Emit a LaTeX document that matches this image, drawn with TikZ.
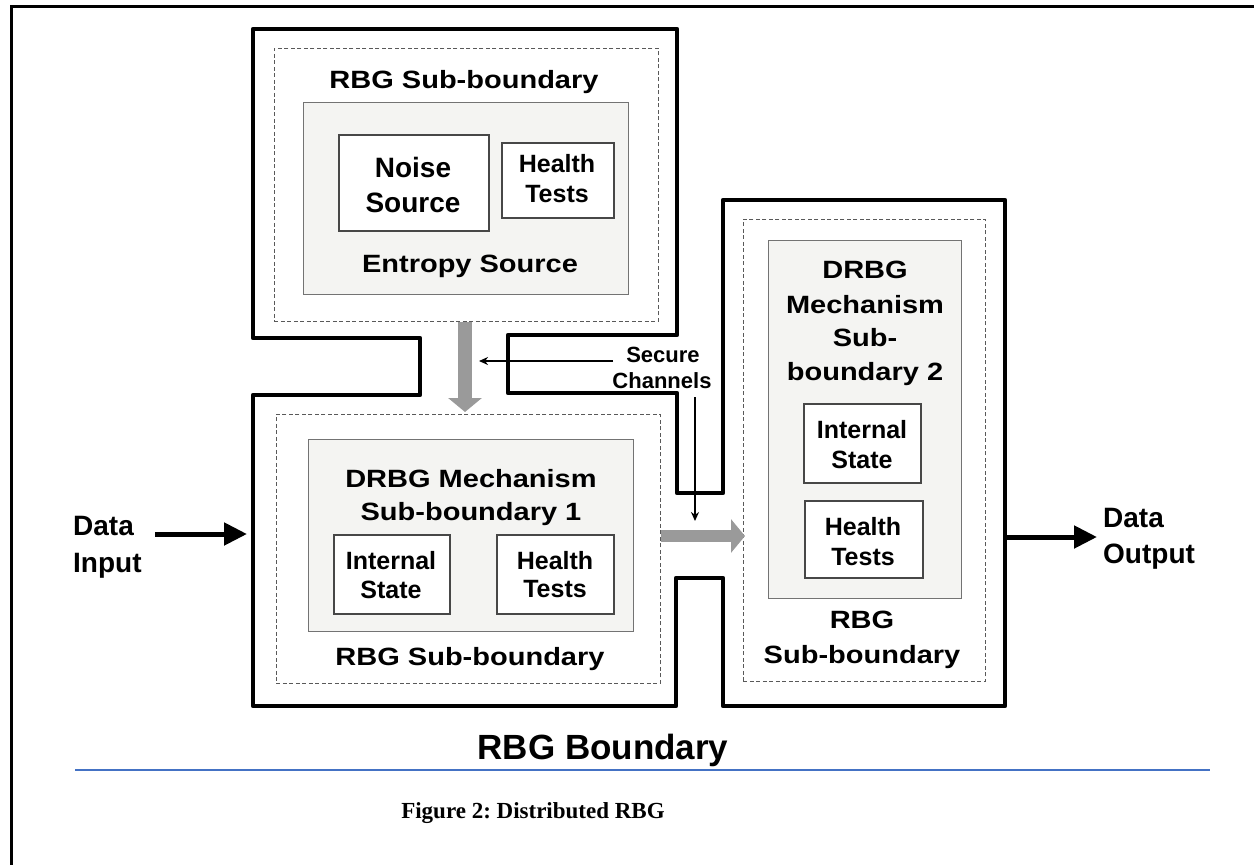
\documentclass[tikz,border=0pt]{standalone}
\usepackage{fontspec}
\setmainfont{Liberation Sans}
\newfontfamily\widesans{Liberation Sans}[FakeStretch=1.16]
\newfontfamily\capserif{Liberation Serif}
\usetikzlibrary{arrows.meta}
\definecolor{capblue}{HTML}{4472C4}
\definecolor{chgray}{HTML}{9A9A9A}
\definecolor{panel}{HTML}{F4F4F2}
\frenchspacing

\begin{document}
\begin{tikzpicture}[x=1pt,y=-1pt,
  frame/.style={line width=3pt},
  bound/.style={line width=4.5pt, line join=round},
  subb/.style={draw=black!65, line width=0.9pt, dash pattern=on 4pt off 2.5pt, inner sep=0, anchor=north west},
  shade/.style={draw=black!55, fill=panel, line width=1.3pt, inner sep=0, anchor=north west},
  cell/.style={draw=black!72, fill=white, line width=1.5pt, inner sep=0, anchor=north west},
  lbl/.style={font=\widesans\bfseries\fontsize{25}{30}\selectfont, inner sep=0, anchor=base},
  txt/.style={font=\bfseries\fontsize{25}{30}\selectfont, inner sep=0, anchor=base},
  big/.style={font=\bfseries\fontsize{28}{32}\selectfont, inner sep=0, anchor=base},
  small/.style={font=\bfseries\fontsize{22}{26}\selectfont, inner sep=0, anchor=base},
  chan/.style={draw=chgray, -{Triangle[length=14pt,width=33pt]}},
  pointer/.style={line width=1.6pt, -{Stealth[length=9pt,width=8pt]}},
  io/.style={line width=5pt, -{Triangle[length=23pt,width=22pt]}}
]
\useasboundingbox (0,0) rectangle (1254,865);

% page frame
\draw[frame] (11,865) -- (11,6) -- (1254,6);

% outer RBG boundary with its channels
\draw[bound] (253,29) -- (677,29) -- (677,335) -- (508,335) -- (508,393)
  -- (677,393) -- (677,493) -- (723,493) -- (723,200) -- (1005,200)
  -- (1005,706) -- (723,706) -- (723,578) -- (676,578) -- (676,706)
  -- (253,706) -- (253,395) -- (420,395) -- (420,338) -- (253,338) -- cycle;

% ---- entropy source part
\node[subb, minimum width=384pt, minimum height=273pt] (dtop) at (274,48) {};
\node[lbl] (subtop) at (464,88) {RBG Sub-boundary};
\node[shade, minimum width=325pt, minimum height=192pt] (es) at (303,102) {};
\node[cell, minimum width=150pt, minimum height=96pt] (noise) at (338,134) {};
\node[big] (noise1) at (413,177) {Noise};
\node[big] (noise2) at (413,212) {Source};
\node[cell, minimum width=112pt, minimum height=75pt] (ht0) at (501,142) {};
\node[txt] (ht0a) at (557,172) {Health};
\node[txt] (ht0b) at (557,202) {Tests};
\node[lbl] (eslbl) at (470,272) {Entropy Source};

% ---- DRBG mechanism sub-boundary 1
\node[subb, minimum width=384pt, minimum height=269pt] (dbot) at (276,414) {};
\node[shade, minimum width=325pt, minimum height=192pt] (m1) at (308,439) {};
\node[lbl] (m1a) at (471,487) {DRBG Mechanism};
\node[lbl] (m1b) at (471,520) {Sub-boundary 1};
\node[cell, minimum width=116pt, minimum height=79pt] (is1) at (333,534) {};
\node[txt] (is1a) at (391,569) {Internal};
\node[txt] (is1b) at (391,598) {State};
\node[cell, minimum width=117pt, minimum height=79pt] (ht1) at (496,534) {};
\node[txt] (ht1a) at (555,569) {Health};
\node[txt] (ht1b) at (555,597) {Tests};
\node[lbl] (subbot) at (470,665) {RBG Sub-boundary};

% ---- DRBG mechanism sub-boundary 2
\node[subb, minimum width=242pt, minimum height=462pt] (dright) at (743,219) {};
\node[shade, minimum width=193pt, minimum height=358pt] (m2) at (768,240) {};
\node[lbl] (m2a) at (865,278) {DRBG};
\node[lbl] (m2b) at (865,313) {Mechanism};
\node[lbl] (m2c) at (865,346) {Sub-};
\node[lbl] (m2d) at (865,380) {boundary 2};
\node[cell, minimum width=117pt, minimum height=79pt] (is2) at (803,403) {};
\node[txt] (is2a) at (862,438) {Internal};
\node[txt] (is2b) at (862,468) {State};
\node[cell, minimum width=118pt, minimum height=77pt] (ht2) at (804,500) {};
\node[txt] (ht2a) at (863,535) {Health};
\node[txt] (ht2b) at (863,565) {Tests};
\node[lbl] (subr1) at (862,628) {RBG};
\node[lbl] (subr2) at (862,663) {Sub-boundary};

% ---- secure channels
\coordinate (downx) at (465,0);
\coordinate (chanY) at (0,536);
\draw[chan, line width=14pt] (dtop.south -| downx) -- ([yshift=2pt]dbot.north -| downx);
\draw[chan, line width=12pt] (dbot.east |- chanY) -- ([xshift=2pt]dright.west |- chanY);

\node[small] (sec1) at (663,362) {Secure};
\node[small] (sec2) at (662,388) {Channels};
\coordinate (p1s) at (613,361);
\coordinate (p1e) at (479,361);
\coordinate (p2s) at (695,397);
\coordinate (p2e) at (695,521);
\draw[pointer] (p1s) -- (p1e);
\draw[pointer] (p2s) -- (p2e);

% ---- data in / out
\node[big, anchor=base west] (din1) at (73,535) {Data};
\node[big, anchor=base west] (din2) at (73,572) {Input};
\node[big, anchor=base west] (dout1) at (1103,527) {Data};
\node[big, anchor=base west] (dout2) at (1103,563) {Output};
\coordinate (ins) at (155,534);
\coordinate (ine) at (247,534);
\coordinate (outs) at (1005,537);
\coordinate (oute) at (1097,537);
\draw[io] (ins) -- (ine);
\draw[io] (outs) -- (oute);

% ---- titles
\node[font=\bfseries\fontsize{35}{40}\selectfont, inner sep=0, anchor=base] (bname) at (603,759) {RBG Boundary};
\draw[capblue, line width=1.3pt] (75,770) -- (1210,770);
\node[font=\capserif\bfseries\fontsize{23}{28}\selectfont, inner sep=0, anchor=base] (cap) at (533,818) {Figure 2: Distributed RBG};
\end{tikzpicture}
\end{document}
